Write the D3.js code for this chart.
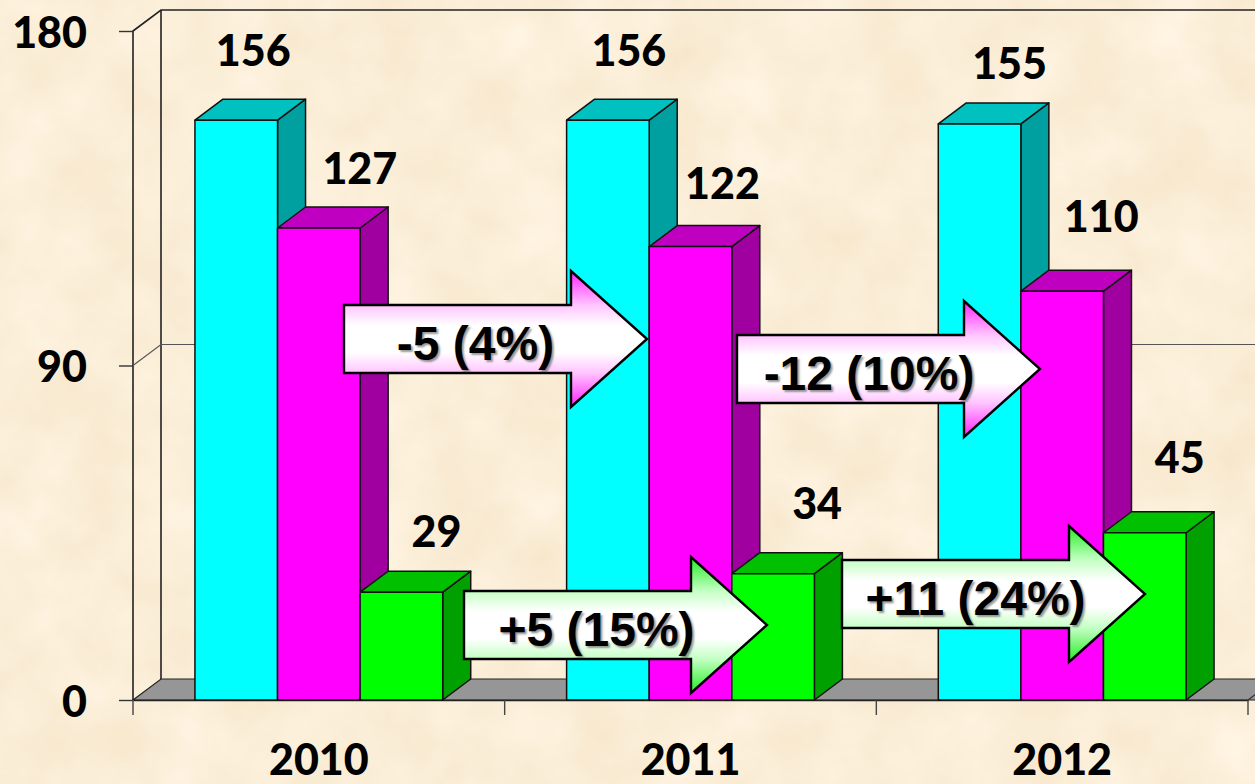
<!DOCTYPE html>
<html><head><meta charset="utf-8">
<script src="https://cdn.jsdelivr.net/npm/d3@7"></script>
<style>
html,body{margin:0;padding:0;background:#fbeed6;overflow:hidden}
svg{display:block}
.num{font-family:Lato,"Open Sans",sans-serif;font-weight:900;fill:#000}
.arrowText{font-family:"Liberation Sans",Arial,sans-serif;font-weight:700;fill:#000;text-shadow:2px 2px 2px rgba(70,70,70,.55)}
</style></head><body>
<script>
// ---- data ----
const years = ["2010","2011","2012"];
const seriesNames = ["a","b","c"];
const valuesA = [156,156,155];
const valuesB = [127,122,110];
const valuesC = [29,34,45];
const yTicks = [0,90,180];
const arrowLabels = ["-5 (4%)","-12 (10%)","+5 (15%)","+11 (24%)"];
const arrowKinds = ["b","b","c","c"];

// ---- layout (separate from data) ----
const W=1255,H=784, dx=28, dy=21;
const plot={left:133,right:1248,top:31,bottom:700};
const labelShift={ // label centre relative to the bar: [dx, height above bar top]
  a:[[17,70],[21,70],[30,61]],
  b:[[41,60],[32,64],[39,75]],
  c:[[35,61],[44,71],[35,76]]
};
const arrowPlace=[ {tip:647,cy:339},{tip:1040,cy:369},{tip:767,cy:625},{tip:1145,cy:594} ];
const arrowTextDx=[-20,-19.5,-19,-18];
const colors={
  a:{front:"#00ffff",top:"#00c0c0",side:"#00a0a0"},
  b:{front:"#ff00ff",top:"#c000c0",side:"#a000a0"},
  c:{front:"#00ff00",top:"#00c000",side:"#00a000"}
};

const svg=d3.select("body").append("svg").attr("width",W).attr("height",H);
const defs=svg.append("defs");

// parchment background
const f=defs.append("filter").attr("id","paper").attr("x",0).attr("y",0).attr("width","100%").attr("height","100%")
  .attr("color-interpolation-filters","sRGB");
f.append("feTurbulence").attr("type","fractalNoise").attr("baseFrequency","0.014").attr("numOctaves",4).attr("seed",7);
f.append("feColorMatrix").attr("type","matrix").attr("values",
 "0.04 0 0 0 0.964  0.07 0 0 0 0.898  0.12 0 0 0 0.785  0 0 0 0 1");
svg.append("rect").attr("width",W).attr("height",H).attr("filter","url(#paper)");

const y=d3.scaleLinear().domain([0,180]).range([plot.bottom,plot.top]);
const x=d3.scaleBand().domain(years).range([plot.left,plot.right]).paddingInner(1/3).paddingOuter(1/6);
const sub=d3.scaleBand().domain(seriesNames).range([0,x.bandwidth()]);
const boundary=i=>plot.left+i*x.step();

const lineCol="#222";
const wallRight=W+40;
svg.append("path").attr("fill","none").attr("stroke",lineCol).attr("stroke-width",1.6)
  .attr("d",`M${plot.left},${y(0)}V${y(180)}L${plot.left+dx},${y(180)-dy}H${wallRight}`);
svg.append("path").attr("fill","none").attr("stroke",lineCol).attr("stroke-width",1.6)
  .attr("d",`M${plot.left+dx},${y(180)-dy}V${y(0)-dy}`);
svg.selectAll(".grid").data(yTicks.filter(t=>t>0&&t<180)).join("path").attr("class","grid")
  .attr("fill","none").attr("stroke","#555").attr("stroke-width",1.2)
  .attr("d",t=>`M${plot.left},${y(t)}L${plot.left+dx},${y(t)-dy}H${wallRight}`);
svg.append("path").attr("fill","#969696").attr("stroke",lineCol).attr("stroke-width",1.2)
  .attr("d",`M${plot.left},${y(0)}L${plot.left+dx},${y(0)-dy}H${wallRight}V${y(0)}Z`);
svg.append("path").attr("fill","none").attr("stroke","#333").attr("stroke-width",1.2)
  .attr("d",`M${plot.right},${y(0)}l${dx},${-dy}`);

// y axis
const yAxis=d3.axisLeft(y).tickValues(yTicks).tickSize(14).tickPadding(32);
const gy=svg.append("g").attr("transform",`translate(${plot.left},0)`).call(yAxis);
gy.select(".domain").remove();
gy.selectAll(".tick line").attr("stroke","#333").attr("stroke-width",1.4);
gy.selectAll(".tick text").attr("class","num").style("font-size","43px").attr("dy","0")
  .attr("transform","translate(0,16)");

// x axis
const xAxis=d3.axisBottom(x).tickSize(0).tickPadding(75);
const gx=svg.append("g").attr("transform",`translate(0,${y(0)})`).call(xAxis);
gx.select(".domain").attr("stroke",lineCol).attr("stroke-width",1.6);
gx.selectAll(".tick text").attr("class","num").style("font-size","43px").attr("dy","0");
svg.selectAll(".xb").data(d3.range(years.length+1)).join("line").attr("class","xb")
  .attr("x1",boundary).attr("x2",boundary).attr("y1",y(0)).attr("y2",y(0)+15)
  .attr("stroke","#444").attr("stroke-width",1.4);

// bars
const seriesValues={a:valuesA,b:valuesB,c:valuesC};
const barStroke={stroke:"#111","stroke-width":1.5,"stroke-linejoin":"round"};
const rows=years.flatMap((yr,i)=>seriesNames.map(s=>({yr,i,s,v:seriesValues[s][i]})));
const bars=svg.append("g").selectAll("g").data(rows).join("g");
const bx=d=>x(d.yr)+sub(d.s), bw=sub.bandwidth();
const applyS=sel=>Object.entries(barStroke).forEach(([k,v])=>sel.attr(k,v));
bars.append("path").attr("fill",d=>colors[d.s].side).call(applyS)
  .attr("d",d=>`M${bx(d)+bw},${y(d.v)}l${dx},${-dy}V${y(0)-dy}L${bx(d)+bw},${y(0)}Z`);
bars.append("path").attr("fill",d=>colors[d.s].top).call(applyS)
  .attr("d",d=>`M${bx(d)},${y(d.v)}l${dx},${-dy}h${bw}l${-dx},${dy}Z`);
bars.append("rect").attr("fill",d=>colors[d.s].front).call(applyS)
  .attr("x",bx).attr("y",d=>y(d.v)).attr("width",bw).attr("height",d=>y(0)-y(d.v));
svg.append("g").selectAll("text").data(rows).join("text").attr("class","num")
  .style("font-size","43px").attr("text-anchor","middle")
  .attr("x",d=>bx(d)+bw/2+labelShift[d.s][d.i][0])
  .attr("y",d=>y(d.v)-labelShift[d.s][d.i][1]+16)
  .text(d=>d.v);

// arrows
const arrowW=303, headL=76, headH=68, shaftH=34;
arrowLabels.forEach((lab,i)=>{
  const p=arrowPlace[i], kind=arrowKinds[i], c=kind==="b"?"#ff22ff":"#22ee22", c2=kind==="b"?"#ffc4ff":"#c4ffc4";
  const g=defs.append("linearGradient").attr("id","ag"+i).attr("gradientUnits","userSpaceOnUse")
    .attr("x1",0).attr("x2",0).attr("y1",p.cy-headH).attr("y2",p.cy+headH);
  [[0,c],[.25,c2],[.4,"#fff"],[.6,"#fff"],[.75,c2],[1,c]].forEach(([o,col])=>
    g.append("stop").attr("offset",o).attr("stop-color",col));
  const l=p.tip-arrowW, n=p.tip-headL;
  svg.append("path").attr("fill",`url(#ag${i})`).attr("stroke","#000").attr("stroke-width",2.4).attr("stroke-linejoin","miter")
    .attr("d",`M${l},${p.cy-shaftH}H${n}V${p.cy-headH}L${p.tip},${p.cy}L${n},${p.cy+headH}V${p.cy+shaftH}H${l}Z`);
  svg.append("text").attr("class","arrowText").style("font-size","48px").attr("text-anchor","middle")
    .attr("x",l+arrowW/2+arrowTextDx[i]).attr("y",p.cy+21).text(lab);
});
</script>
</body></html>
